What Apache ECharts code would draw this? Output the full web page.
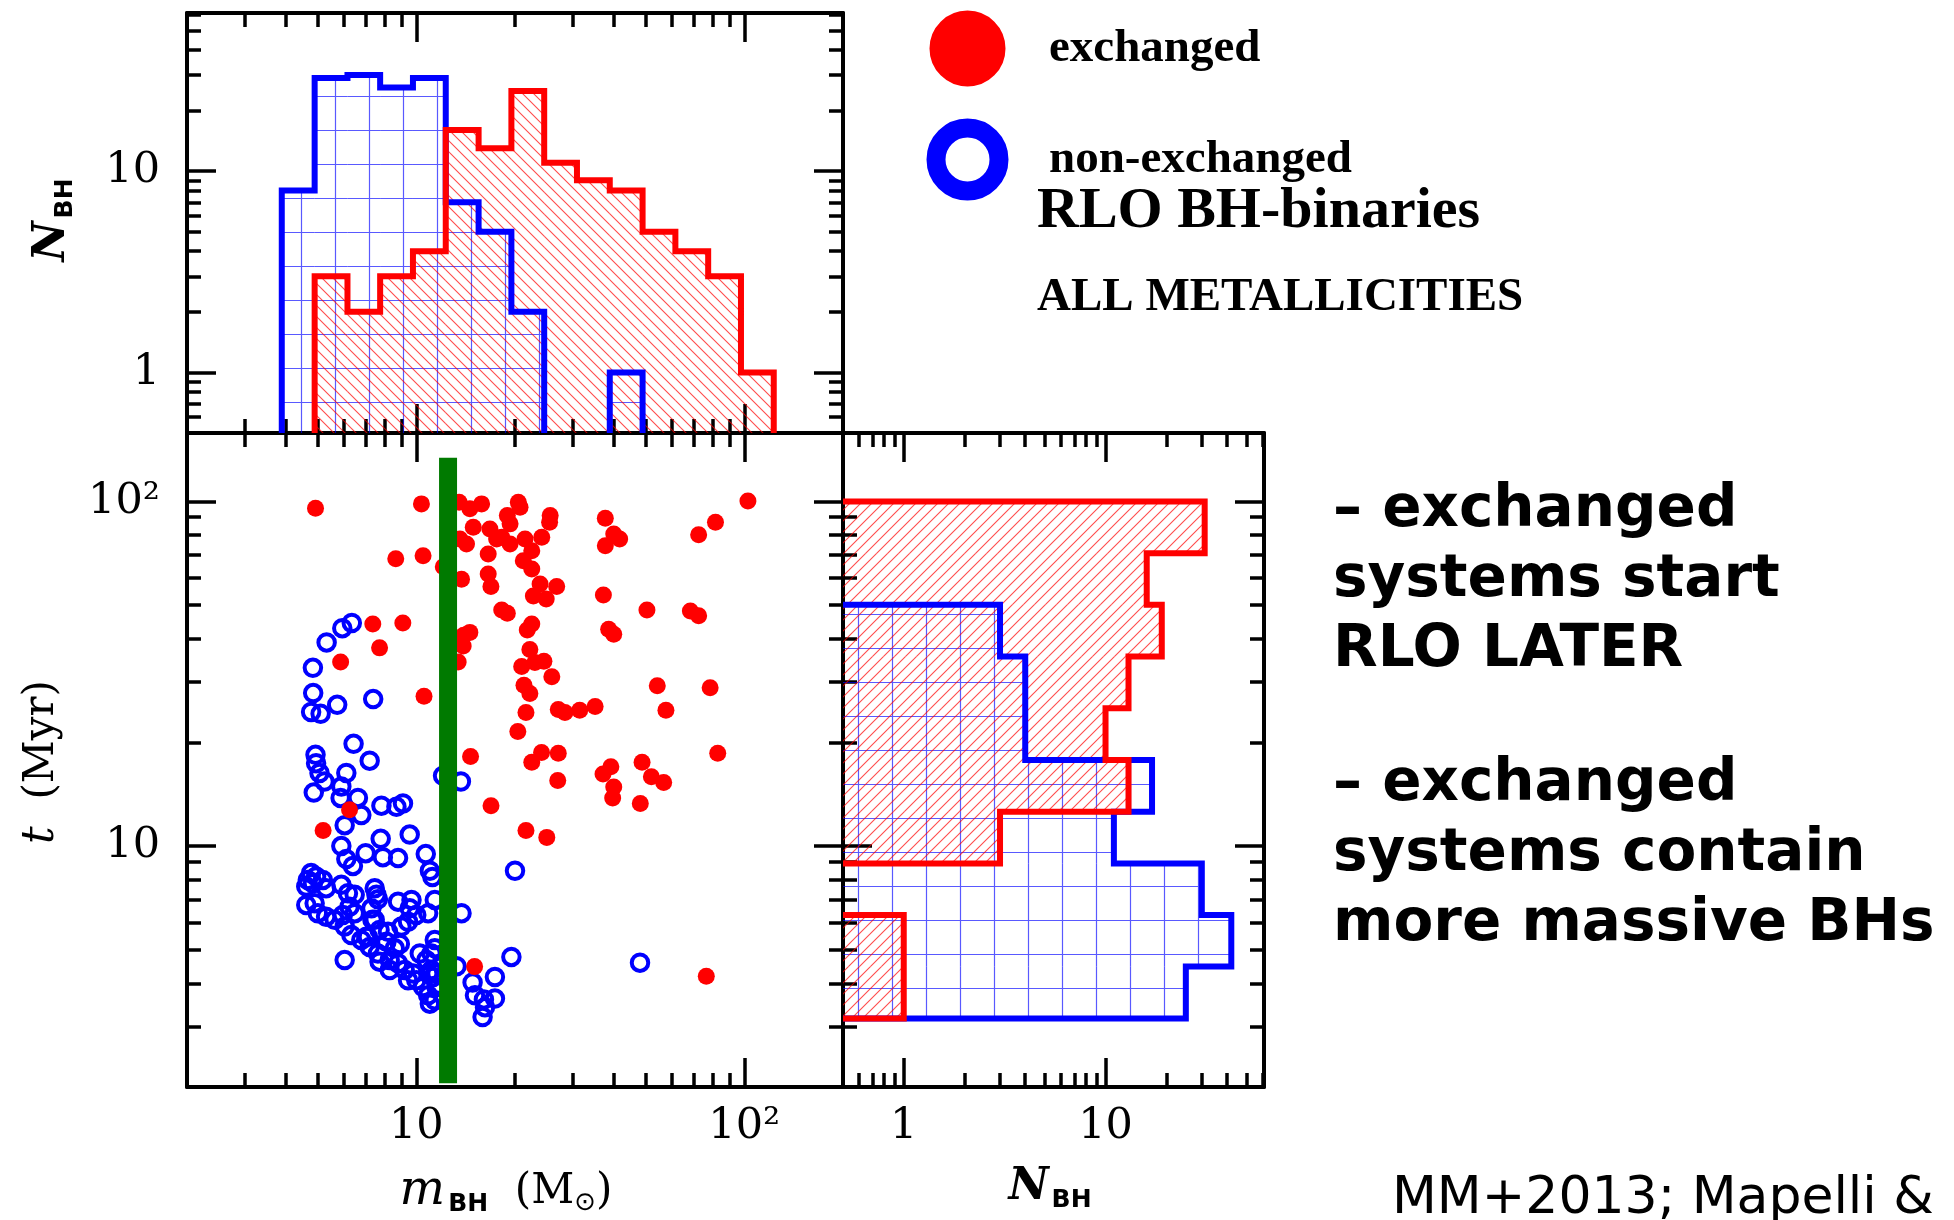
<!DOCTYPE html>
<html><head><meta charset="utf-8">
<script src="https://cdn.jsdelivr.net/npm/echarts@6/dist/echarts.min.js"></script>
<style>html,body{margin:0;padding:0;background:#fff}#c{width:1954px;height:1220px}</style>
</head><body><div id="c"></div>
<script>
// ---------------- DATA ----------------
const massRange = [2, 200];
const timeRange = [2, 158];
const countRange = [0.5, 61];

const massTicksMajor = [10, 100];
const massTicksMinor = [3, 4, 5, 6, 7, 8, 9, 20, 30, 40, 50, 60, 70, 80, 90];
const timeTicksMajor = [10, 100];
const timeTicksMinor = [3, 4, 5, 6, 7, 8, 9, 20, 30, 40, 50, 60, 70, 80, 90];
const countTicksMajor = [1, 10];
const countTicksMinor = [0.6, 0.7, 0.8, 0.9, 2, 3, 4, 5, 6, 7, 8, 9, 20, 30, 40, 50, 60];

// mass histogram (top panel)
const massEdges = [3.89, 4.90, 6.17, 7.76, 9.77, 12.3, 15.49, 19.5, 24.55, 30.9, 38.9, 48.98, 61.66, 77.62, 97.72, 123.0];
const massCountsNonExchanged = [8, 29, 30, 26, 29, 7, 5, 2, 0, 0, 1, 0, 0, 0, 0];
const massCountsExchanged    = [0, 3, 2, 3, 4, 16, 13, 25, 11, 9, 8, 5, 4, 3, 1];

// time histogram (right panel)
const timeEdges = [3.16, 4.47, 6.31, 8.91, 12.59, 17.78, 25.12, 35.48, 50.12, 70.79, 100];
const timeCountsNonExchanged = [25, 42, 30, 11, 17, 4, 4, 3, 0, 0];
const timeCountsExchanged    = [1, 1, 0, 3, 13, 10, 13, 19, 16, 31];

// scatter: [m_BH (Msun), t (Myr)]
const exchanged = [
  [4.93, 95.6], [8.66, 68.2], [10.37, 98.4], [10.49, 69.6], [7.37, 44.1], [9.10, 44.4], [7.73, 37.6],
  [5.88, 34.2], [10.56, 27.2], [6.26, 12.75], [5.20, 11.1], [15.06, 4.47], [76.6, 4.19], [102.6, 100.3],
  [13.51, 99.5], [14.57, 95.2], [15.82, 98.4], [20.47, 99.5], [20.72, 96.2], [25.6, 91.0], [25.5, 87.1],
  [18.95, 91.0], [19.32, 86.1], [14.92, 84.2], [16.77, 83.2], [17.58, 77.8], [18.22, 78.7], [19.32, 75.3],
  [21.46, 77.8], [24.13, 78.7], [22.5, 71.9], [21.2, 67.3], [22.5, 63.7], [14.23, 75.3], [13.58, 77.8],
  [16.57, 70.4], [12.09, 64.7], [13.74, 59.5], [16.57, 61.6], [16.89, 56.7], [37.7, 89.4], [40.0, 80.5],
  [41.7, 77.8], [37.7, 74.4], [81.7, 87.1], [72.6, 80.0], [23.85, 57.6], [26.8, 56.7], [22.75, 53.2],
  [24.9, 52.1], [37.2, 53.5], [50.5, 48.4], [68.5, 48.1], [72.6, 46.6], [18.22, 48.4], [18.95, 47.4],
  [22.5, 44.1], [21.8, 42.4], [14.57, 41.7], [13.9, 38.1], [13.95, 40.9], [38.6, 42.6], [40.0, 41.2],
  [13.42, 34.2], [22.2, 37.2], [20.96, 33.2], [23.0, 34.1], [24.5, 34.4], [25.9, 31.0], [21.3, 29.3],
  [22.2, 27.7], [54.3, 29.2], [78.7, 28.8], [21.6, 24.4], [27.1, 24.9], [28.4, 24.4], [31.5, 24.8],
  [35.1, 25.4], [57.7, 24.8], [20.4, 21.5], [14.64, 18.2], [22.5, 17.5], [24.1, 18.7], [27.1, 18.6],
  [37.1, 16.2], [39.2, 17.0], [40.0, 14.85], [39.7, 13.8], [48.8, 17.5], [52.1, 15.9], [56.8, 15.3],
  [83.0, 18.6], [27.0, 15.5], [16.9, 13.1], [48.2, 13.3], [21.6, 11.1], [25.0, 10.6]
];
const nonExchanged = [
  [6.36, 44.4], [5.95, 42.9], [5.33, 39.0], [4.84, 32.9], [4.85, 27.8], [4.78, 24.5], [5.11, 24.2],
  [5.74, 25.7], [7.39, 26.7], [48.1, 4.59], [6.44, 19.8], [4.93, 18.4], [4.95, 17.4], [7.21, 17.7],
  [5.07, 16.3], [5.25, 15.4], [6.12, 16.3], [4.87, 14.3], [5.91, 14.9], [5.88, 13.8], [6.64, 13.8],
  [6.80, 12.3], [6.05, 11.5], [7.83, 13.1], [8.70, 13.0], [9.11, 13.3], [12.07, 16.0], [13.68, 15.4],
  [9.55, 10.8], [7.79, 10.5], [5.91, 10.0], [7.01, 9.54], [7.91, 9.29], [8.80, 9.23], [6.12, 9.17],
  [6.41, 8.76], [10.69, 9.48], [11.0, 8.48], [11.2, 8.13], [20.0, 8.48], [4.78, 8.35], [4.67, 7.98],
  [4.62, 7.63], [4.95, 8.16], [5.19, 7.98], [5.31, 7.55], [5.91, 7.72], [6.19, 7.30], [6.49, 7.22],
  [7.47, 7.55], [7.56, 7.22], [7.64, 7.01], [4.62, 6.75], [4.90, 6.83], [5.01, 6.39], [5.31, 6.24],
  [5.64, 6.11], [5.97, 6.31], [6.26, 6.67], [6.49, 6.39], [8.80, 6.90], [9.67, 6.98], [9.55, 6.60],
  [10.0, 6.31], [10.87, 6.39], [11.39, 6.98], [7.30, 6.60], [7.35, 6.11], [13.74, 6.39], [6.05, 5.84],
  [6.34, 5.52], [6.80, 5.34], [7.12, 5.46], [7.47, 6.11], [7.73, 5.71], [8.20, 5.64], [9.01, 5.84],
  [9.44, 6.03], [6.05, 4.67], [7.21, 5.10], [7.64, 4.88], [8.11, 5.28], [8.60, 5.05], [8.91, 5.20],
  [7.73, 4.62], [8.30, 4.67], [8.80, 4.57], [9.22, 4.37], [9.78, 4.27], [10.25, 4.88], [10.74, 4.67],
  [11.39, 5.05], [11.13, 4.37], [10.0, 4.08], [10.49, 3.90], [10.87, 3.69], [11.39, 3.57], [11.53, 3.90],
  [11.25, 4.17], [13.27, 4.48], [19.5, 4.77], [17.37, 4.17], [14.85, 4.02], [15.1, 3.69], [16.08, 3.59],
  [17.37, 3.61], [16.2, 3.41], [15.93, 3.19], [8.30, 4.37], [9.44, 4.08], [11.13, 4.88], [11.39, 5.34],
  [11.0, 3.49], [7.04, 5.46], [11.53, 4.27], [10.87, 4.27], [4.84, 7.80]
];

// vertical marker
const greenBarMass = 12.5;
const greenBarTime = [2.05, 134];

// ---------------- STYLE / HELPERS ----------------
const RED = '#ff0000', BLUE = '#0000ff', GREEN = '#007a00';
const OUTLINE_BASE = 0.42;

function hatch(dir, color, step) {
  const c = document.createElement('canvas'); c.width = step; c.height = step;
  const g = c.getContext('2d'); g.strokeStyle = color; g.lineWidth = 1.1; g.beginPath();
  if (dir === 'back') {
    g.moveTo(-2, -2); g.lineTo(step + 2, step + 2);
    g.moveTo(-2, step - 2); g.lineTo(2, step + 2);
    g.moveTo(step - 2, -2); g.lineTo(step + 2, 2);
  } else {
    g.moveTo(-2, step + 2); g.lineTo(step + 2, -2);
    g.moveTo(-2, 2); g.lineTo(2, -2);
    g.moveTo(step - 2, step + 2); g.lineTo(step + 2, step - 2);
  }
  g.stroke();
  return {image: c, repeat: 'repeat'};
}
function gridPattern(color, step, ox, oy) {
  const c = document.createElement('canvas'); c.width = step; c.height = step;
  const g = c.getContext('2d'); g.strokeStyle = color; g.lineWidth = 1.2; g.beginPath();
  g.moveTo(ox, 0); g.lineTo(ox, step); g.moveTo(0, oy); g.lineTo(step, oy); g.stroke();
  return {image: c, repeat: 'repeat'};
}
const redHatchTop = hatch('back', 'rgba(255,0,0,0.7)', 11);
const redHatchRight = hatch('fwd', 'rgba(255,0,0,0.7)', 11);
const blueGridTop = gridPattern('rgba(0,0,255,0.65)', 34, 29.5, 28.5);
const blueGridRight = gridPattern('rgba(0,0,255,0.65)', 34, 8.5, 2.5);

const tickFont = 'DejaVu Serif';
function labelFmt(v) {
  const r = Math.round(v * 1000) / 1000;
  if (r === 100) return '10\u00b2';
  return String(r);
}
function axesFor(dim, gridIndex, range, majors, minors, labelPos, margin) {
  const positions = dim === 'x' ? ['bottom', 'top'] : ['left', 'right'];
  const out = [];
  positions.forEach(pos => {
    out.push({
      type: 'log', logBase: 10, gridIndex, position: pos, min: range[0], max: range[1],
      axisLine: {show: true, onZero: false, lineStyle: {color: '#000', width: 4}},
      axisTick: {show: true, inside: true, length: 29, customValues: majors, lineStyle: {color: '#000', width: 3.5}},
      axisLabel: {show: pos === labelPos, customValues: majors, formatter: labelFmt, margin,
        fontFamily: tickFont, fontSize: 43, color: '#000'},
      splitLine: {show: false}, minorTick: {show: false}, minorSplitLine: {show: false}
    });
    out.push({
      type: 'log', logBase: 10, gridIndex, position: pos, min: range[0], max: range[1],
      axisLine: {show: false},
      axisTick: {show: true, inside: true, length: 14, customValues: minors, lineStyle: {color: '#000', width: 3.5}},
      axisLabel: {show: false}, splitLine: {show: false}
    });
  });
  return out;
}

const xAxes = [].concat(
  axesFor('x', 0, massRange, massTicksMajor, massTicksMinor, 'none', 18),
  axesFor('x', 1, massRange, massTicksMajor, massTicksMinor, 'bottom', 18),
  axesFor('x', 2, countRange, countTicksMajor, countTicksMinor, 'bottom', 18)
);
const yAxes = [].concat(
  axesFor('y', 0, countRange, countTicksMajor, countTicksMinor, 'left', 27),
  axesFor('y', 1, timeRange, timeTicksMajor, timeTicksMinor, 'left', 27),
  axesFor('y', 2, timeRange, timeTicksMajor, timeTicksMinor, 'none', 27)
);

function fillSeries(xi, yi, edges, counts, orient, pattern, z) {
  const data = [];
  counts.forEach((c, i) => { if (c > 0) data.push([edges[i], edges[i + 1], c]); });
  return {
    type: 'custom', xAxisIndex: xi, yAxisIndex: yi, clip: true, silent: true, z,
    encode: orient === 'v' ? {x: [0, 1], y: 2} : {x: 2, y: [0, 1]},
    data,
    renderItem: (params, api) => {
      const lo = api.value(0), hi = api.value(1), c = api.value(2);
      const p = orient === 'v' ? api.coord([lo, c]) : api.coord([countRange[0], hi]);
      const q = orient === 'v' ? api.coord([hi, countRange[0]]) : api.coord([c, lo]);
      return {type: 'rect', shape: {x: Math.min(p[0], q[0]), y: Math.min(p[1], q[1]),
        width: Math.abs(q[0] - p[0]), height: Math.abs(q[1] - p[1])}, style: {fill: pattern}};
    }
  };
}
function outlineSeries(xi, yi, edges, counts, orient, color, z) {
  const pts = [[edges[0], OUTLINE_BASE]];
  counts.forEach((c, i) => { const v = c > 0 ? c : OUTLINE_BASE; pts.push([edges[i], v], [edges[i + 1], v]); });
  pts.push([edges[edges.length - 1], OUTLINE_BASE]);
  const dp = orient === 'v' ? pts : pts.map(p => [p[1], p[0]]);
  return {
    type: 'custom', xAxisIndex: xi, yAxisIndex: yi, clip: true, silent: true, z,
    data: [dp[2]],
    renderItem: (params, api) => ({
      type: 'polyline', shape: {points: dp.map(p => api.coord(p))},
      style: {stroke: color, lineWidth: 6, fill: null, lineJoin: 'miter'}
    })
  };
}

const series = [
  fillSeries(0, 0, massEdges, massCountsNonExchanged, 'v', blueGridTop, 2),
  fillSeries(0, 0, massEdges, massCountsExchanged, 'v', redHatchTop, 2),
  outlineSeries(0, 0, massEdges, massCountsNonExchanged, 'v', BLUE, 3),
  outlineSeries(0, 0, massEdges, massCountsExchanged, 'v', RED, 4),
  {
    type: 'scatter', name: 'non-exchanged', xAxisIndex: 4, yAxisIndex: 4, data: nonExchanged,
    symbol: 'circle', symbolSize: 16.5, silent: true, z: 5,
    itemStyle: {color: 'rgba(255,255,255,0)', borderColor: BLUE, borderWidth: 4, opacity: 1}
  },
  {
    type: 'scatter', name: 'exchanged', xAxisIndex: 4, yAxisIndex: 4, data: exchanged,
    symbol: 'circle', symbolSize: 17, silent: true, z: 6,
    itemStyle: {color: RED, opacity: 1}
  },
  {
    type: 'line', xAxisIndex: 4, yAxisIndex: 4, data: greenBarTime.map(t => [greenBarMass, t]),
    symbol: 'none', silent: true, z: 7, lineStyle: {color: GREEN, width: 18, cap: 'butt'}
  },
  fillSeries(8, 8, timeEdges, timeCountsNonExchanged, 'h', blueGridRight, 2),
  fillSeries(8, 8, timeEdges, timeCountsExchanged, 'h', redHatchRight, 2),
  outlineSeries(8, 8, timeEdges, timeCountsNonExchanged, 'h', BLUE, 3),
  outlineSeries(8, 8, timeEdges, timeCountsExchanged, 'h', RED, 4)
];

function txt(x, y, text, font, opts) {
  const o = opts || {};
  return Object.assign({
    type: 'text', x, y, silent: true, z: 20,
    style: Object.assign({text, font, fill: '#000', align: 'left', verticalAlign: 'middle',
      textAlign: 'left', textVerticalAlign: 'middle'}, o.style || {})
  }, o.el || {});
}
const serifRich = {
  n: {fontFamily: 'DejaVu Serif', fontStyle: 'italic', fontWeight: 'bold', fontSize: 44, fill: '#000'},
  s: {fontFamily: 'DejaVu Sans', fontWeight: 'bold', fontSize: 25, fill: '#000', padding: [24, 0, 0, 3]},
  t: {fontFamily: 'DejaVu Serif', fontStyle: 'italic', fontSize: 44, fill: '#000'},
  r: {fontFamily: 'DejaVu Serif', fontSize: 42, fill: '#000'},
  m: {fontFamily: 'DejaVu Serif', fontStyle: 'italic', fontSize: 48, fill: '#000'},
  o: {fontFamily: 'DejaVu Sans', fontSize: 26, fill: '#000', padding: [22, 0, 0, 0]}
};

const graphic = [
  txt(1037, 212, 'RLO BH-binaries', 'bold 58px "Liberation Serif"'),
  txt(1037, 298, 'ALL METALLICITIES', 'bold 47px "Liberation Serif"'),
  txt(1333, 476, '\u2013 exchanged\nsystems start\nRLO LATER', 'bold 58px "DejaVu Sans"',
    {style: {verticalAlign: 'top', textVerticalAlign: 'top', lineHeight: 70}}),
  txt(1333, 750, '\u2013 exchanged\nsystems contain\nmore massive BHs', 'bold 58px "DejaVu Sans"',
    {style: {verticalAlign: 'top', textVerticalAlign: 'top', lineHeight: 70}}),
  txt(1392, 1199, 'MM+2013; Mapelli & ', '52px "DejaVu Sans"'),
  // axis names
  {type: 'text', x: 53, y: 220, rotation: Math.PI / 2, silent: true, z: 20,
    style: {text: '{n|N}{s|BH}', rich: serifRich, align: 'center', verticalAlign: 'middle', textAlign: 'center', textVerticalAlign: 'middle'}},
  {type: 'text', x: 42, y: 762, rotation: Math.PI / 2, silent: true, z: 20,
    style: {text: '{t|t}{r|  (Myr)}', rich: serifRich, align: 'center', verticalAlign: 'middle', textAlign: 'center', textVerticalAlign: 'middle'}},
  {type: 'text', x: 506, y: 1192, silent: true, z: 20,
    style: {text: '{m|m}{s|BH}{r|  (M}{o|\u2299}{r|)}', rich: serifRich, align: 'center', verticalAlign: 'middle', textAlign: 'center', textVerticalAlign: 'middle'}},
  {type: 'text', x: 1050, y: 1188, silent: true, z: 20,
    style: {text: '{n|N}{s|BH}', rich: serifRich, align: 'center', verticalAlign: 'middle', textAlign: 'center', textVerticalAlign: 'middle'}}
];

const chart = echarts.init(document.getElementById('c'), null, {renderer: 'canvas'});
chart.setOption({
  animation: false,
  backgroundColor: '#ffffff',
  grid: [
    {left: 187, top: 13, width: 656, height: 420, outerBoundsMode: 'none', containLabel: false},
    {left: 187, top: 433, width: 656, height: 654, outerBoundsMode: 'none', containLabel: false},
    {left: 843, top: 433, width: 421, height: 654, outerBoundsMode: 'none', containLabel: false}
  ],
  xAxis: xAxes,
  yAxis: yAxes,
  legend: {
    orient: 'vertical', left: 926.5, top: 10.5, padding: 0, itemWidth: 63, itemHeight: 63, itemGap: 32,
    selectedMode: false,
    textStyle: {fontFamily: 'Liberation Serif', fontWeight: 'bold', fontSize: 47, color: '#000', padding: [0, 0, 8, 45]},
    data: [
      {name: 'exchanged', icon: 'circle', itemStyle: {color: RED, borderColor: RED, borderWidth: 13},
        textStyle: {padding: [0, 0, 12, 45]}},
      {name: 'non-exchanged', icon: 'circle', itemStyle: {color: 'rgba(255,255,255,0)', borderColor: BLUE, borderWidth: 19},
        textStyle: {padding: [0, 0, 30, 45]}}
    ]
  },
  graphic,
  series
});
</script>
</body></html>
